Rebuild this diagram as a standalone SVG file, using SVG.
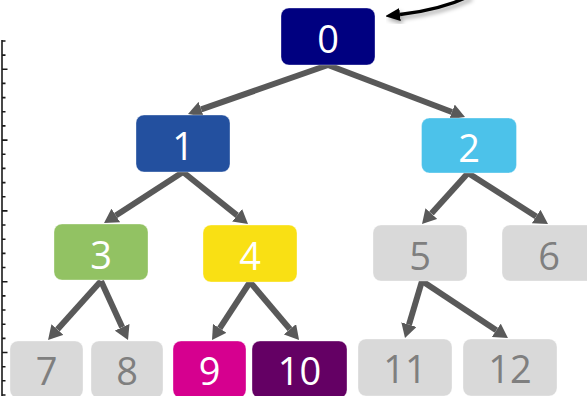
<svg xmlns="http://www.w3.org/2000/svg" width="587" height="396" viewBox="0 0 587 396">
<style>
.n rect{stroke:#ffffff;stroke-opacity:0.35;stroke-width:1}
.n text{font-family:"Open Sans","Liberation Sans",sans-serif;font-size:38px;text-anchor:middle;fill:#ffffff}
.g rect{fill:#d9d9d9}
.g text{fill:#7f7f7f}
.e{fill:none;stroke:#595959;stroke-width:6;marker-end:url(#ah)}
.ax{stroke:#1a1a1a;stroke-width:1.6}
</style>
<defs>
<marker id="ah" markerUnits="userSpaceOnUse" markerWidth="14" markerHeight="16" refX="0" refY="8" orient="auto">
<path d="M0,0 L14,8 L0,16 z" fill="#595959"/>
</marker>
<marker id="bh" markerUnits="userSpaceOnUse" markerWidth="15" markerHeight="13" refX="0" refY="6.5" orient="auto">
<path d="M0,0 L15,6.5 L0,13 z" fill="#000000"/>
</marker>
<filter id="sh" x="-20%" y="-50%" width="140%" height="200%">
<feDropShadow dx="2" dy="3" stdDeviation="2" flood-color="#000" flood-opacity="0.35"/>
</filter>
</defs>
<g id="axis">
<line class="ax" x1="2" y1="40" x2="2" y2="396" stroke-width="2"/>
<path class="ax" d="M2,41 h3.5 M2,55.1 h3.5 M2,69.3 h5.5 M2,83.4 h3.5 M2,97.6 h3.5 M2,111.7 h3.5 M2,125.9 h3.5 M2,140.1 h5.5 M2,154.2 h3.5 M2,168.4 h3.5 M2,182.6 h3.5 M2,196.7 h3.5 M2,210.9 h5.5 M2,225 h3.5 M2,239.2 h3.5 M2,253.4 h3.5 M2,267.5 h3.5 M2,281.7 h5.5 M2,295.9 h3.5 M2,310 h3.5 M2,324.2 h3.5 M2,338.4 h3.5 M2,352.5 h5.5 M2,366.7 h3.5 M2,380.8 h3.5 M2,395 h3.5"/>
</g>
<g id="connectors">
<path class="e" d="M328,65 L201.2,109.4"/>
<path class="e" d="M328,65 L451.9,112"/>
<path class="e" d="M183,172 L115.8,215.4"/>
<path class="e" d="M183,172 L237.1,215.3"/>
<path class="e" d="M468,173 L431.4,213.6"/>
<path class="e" d="M468,173 L536.2,216.5"/>
<path class="e" d="M101,281 L57.4,329.6"/>
<path class="e" d="M101,281 L122.2,327.3"/>
<path class="e" d="M250,282 L219.7,328.3"/>
<path class="e" d="M250,282 L290,329.3"/>
<path class="e" d="M422,281 L409,324.6"/>
<path class="e" d="M422,281 L496.3,330.3"/>
<path d="M470,-4 Q440,10 400,14.5" fill="none" stroke="#000" stroke-width="3.5" marker-end="url(#bh)" filter="url(#sh)"/>
</g>
<g id="node0" class="n"><rect x="281" y="8" width="94" height="57" rx="8" fill="#000080"/><text x="328" y="53">0</text></g>
<g id="node1" class="n"><rect x="136" y="115" width="94" height="57" rx="8" fill="#23509f"/><text x="183" y="160">1</text></g>
<g id="node2" class="n"><rect x="421.5" y="118" width="95" height="55" rx="8" fill="#4cc2ea"/><text x="469" y="162">2</text></g>
<g id="node3" class="n"><rect x="54" y="224" width="94" height="56" rx="8" fill="#92c263"/><text x="101" y="268.5">3</text></g>
<g id="node4" class="n"><rect x="203" y="225" width="94" height="57" rx="8" fill="#f9e014"/><text x="250" y="270">4</text></g>
<g id="node5" class="n g"><rect x="373" y="225" width="94" height="56" rx="8"/><text x="420" y="269.5">5</text></g>
<g id="node6" class="n g"><rect x="502" y="225" width="94" height="56" rx="8"/><text x="549" y="269.5">6</text></g>
<g id="node7" class="n g"><rect x="10" y="341" width="73" height="57" rx="8"/><text x="46.5" y="385">7</text></g>
<g id="node8" class="n g"><rect x="91" y="341" width="72" height="57" rx="8"/><text x="127" y="385">8</text></g>
<g id="node9" class="n"><rect x="173" y="341" width="73" height="57" rx="8" fill="#d6008f"/><text x="209.5" y="385">9</text></g>
<g id="node10" class="n"><rect x="252" y="341" width="95" height="57" rx="8" fill="#640064"/><text x="299.5" y="385">10</text></g>
<g id="node11" class="n g"><rect x="358" y="339" width="94" height="57" rx="8"/><text x="405" y="383">11</text></g>
<g id="node12" class="n g"><rect x="463" y="339" width="94" height="57" rx="8"/><text x="510" y="383">12</text></g>
</svg>
